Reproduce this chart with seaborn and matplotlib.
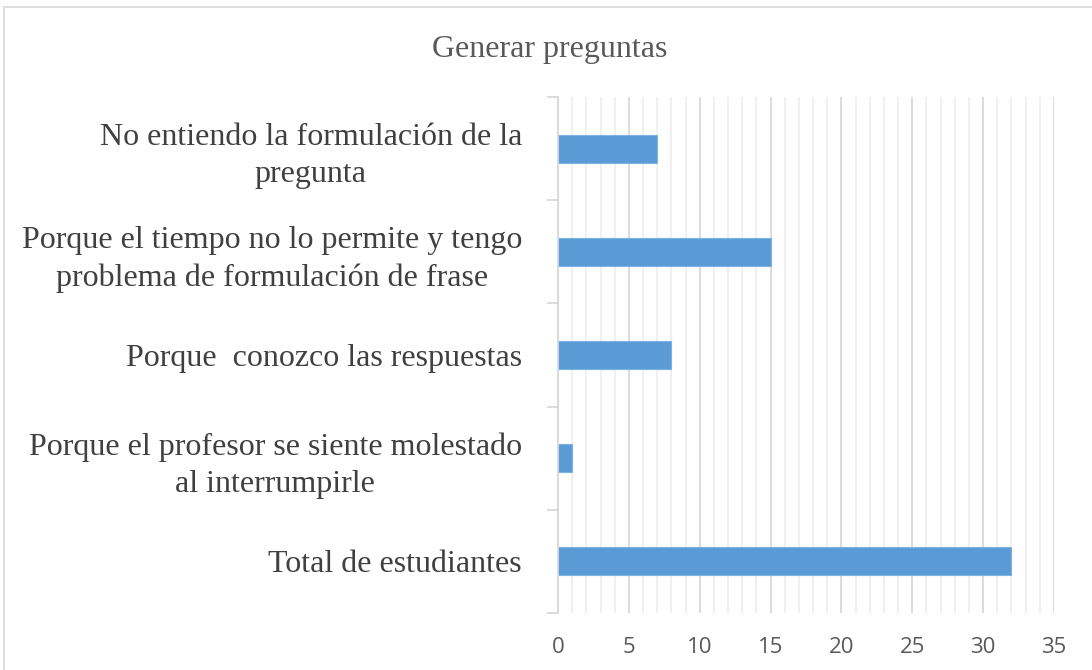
import matplotlib
matplotlib.use("Agg")
import matplotlib.pyplot as plt
from matplotlib.ticker import MultipleLocator
from matplotlib.patches import Rectangle
import seaborn as sns
import pandas as pd

categories = [
    "No entiendo la formulación de la\npregunta",
    "Porque el tiempo no lo permite y tengo\nproblema de formulación de frase",
    "Porque  conozco las respuestas",
    "Porque el profesor se siente molestado\nal interrumpirle",
    "Total de estudiantes",
]
values = [7, 15, 8, 1, 32]
x_ticks = [0, 5, 10, 15, 20, 25, 30, 35]
title = "Generar preguntas"

df = pd.DataFrame({"categoria": categories, "estudiantes": values})

sns.set_theme(style="white")
plt.rcParams["font.family"] = ["Liberation Serif", "DejaVu Serif"]

fig = plt.figure(figsize=(10.92, 6.70), dpi=100)
ax = fig.add_axes([558 / 1092, 1 - 613 / 670, (1054 - 558) / 1092, (613 - 97) / 670])

# light frame around the chart area
fig.patches.append(Rectangle((4 / 1092, -0.1), 1.2, (663 / 670) + 0.1,
                             transform=fig.transFigure, fill=False,
                             edgecolor="#d9d9d9", linewidth=1.2))

sns.barplot(data=df, y="categoria", x="estudiantes", orient="h",
            color="#5B9BD5", width=0.27, edgecolor="#7FB2E2", linewidth=0.8,
            saturation=1, ax=ax)

ax.set_xlim(0, 35)
ax.set_ylim(4.5, -0.5)
ax.xaxis.set_major_locator(MultipleLocator(5))
ax.xaxis.set_minor_locator(MultipleLocator(1))
ax.grid(which="major", axis="x", color="#d9d9d9", linewidth=1.3)
ax.grid(which="minor", axis="x", color="#efefef", linewidth=1.3)
ax.set_axisbelow(True)

for s in ["top", "right", "bottom"]:
    ax.spines[s].set_visible(False)
ax.spines["left"].set_color("#d9d9d9")
ax.spines["left"].set_linewidth(1.3)

# category separators on the vertical axis
ax.set_yticks([i - 0.5 for i in range(len(categories) + 1)], minor=True)
ax.tick_params(axis="y", which="minor", length=8, width=1.3, color="#d9d9d9", left=True)
ax.tick_params(axis="y", which="major", length=0, pad=26)
ax.tick_params(axis="x", which="both", length=0, pad=17)

ax.set_yticks(range(len(categories)))
ax.set_yticklabels(categories, fontsize=23, color="#404040",
                   multialignment="center", linespacing=1.38)
ax.set_xticks(x_ticks)
ax.set_xticklabels([str(v) for v in x_ticks], fontsize=16, color="#595959",
                   family=["Open Sans", "DejaVu Sans"])
ax.set_xlabel("")
ax.set_ylabel("")

fig.text(550 / 1092, 1 - 49 / 670, title, ha="center", va="center",
         fontsize=23, color="#595959")

fig.savefig("out.png", dpi=100, facecolor="white")
